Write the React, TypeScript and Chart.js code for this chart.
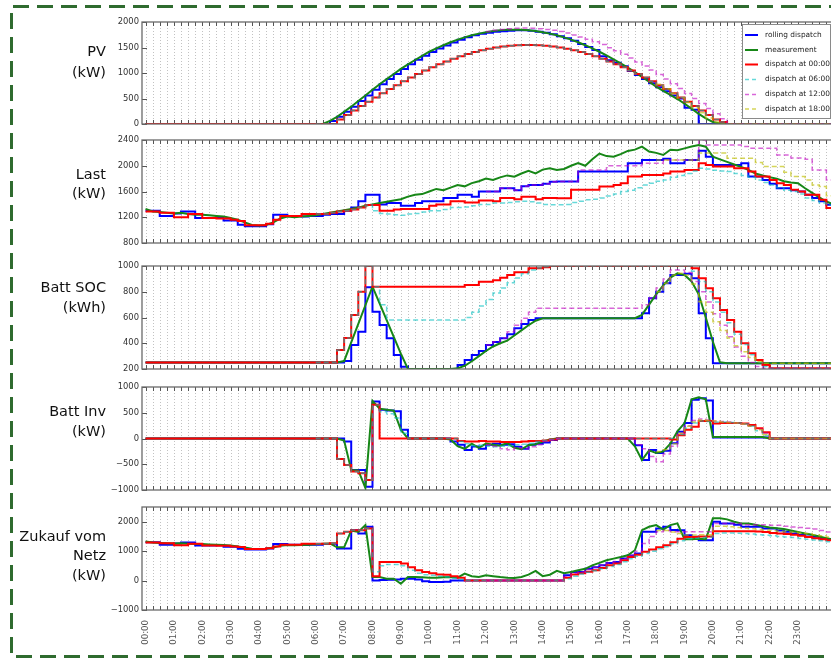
import React, { useEffect, useRef } from 'react';
import { Chart, registerables } from 'chart.js';
Chart.register(...registerables);

// quarter-hour category axis 00:00 .. 24:15
const times: string[] = Array.from({ length: 98 }, (_, i) =>
  `${String(Math.floor(i / 4)).padStart(2, '0')}:${String((i % 4) * 15).padStart(2, '0')}`);

const seriesNames = ['rolling dispatch', 'measurement', 'dispatch at 00:00', 'dispatch at 06:00', 'dispatch at 12:00', 'dispatch at 18:00'];
const seriesStart = [0, 0, 0, 24, 48, 72]; // quarter-hour index at which each series begins

// y tick values per panel
const pvTicks = [0, 500, 1000, 1500, 2000];
const lastTicks = [800, 1200, 1600, 2000, 2400];
const socTicks = [200, 400, 600, 800, 1000];
const invTicks = [-1000, -500, 0, 500, 1000];
const gridTicks = [-1000, 0, 1000, 2000];

// ---------------- PV (kW) ----------------
const pvRoll = [
  0,0,0,0,0,0,0,0,0,0,0,0, 0,0,0,0,0,0,0,0,0,0,0,0,
  0,0,60,140,240,340,450,560,670,780,880,980,
  1080,1170,1260,1340,1410,1480,1540,1600,1650,1700,1740,1770,
  1790,1810,1820,1830,1840,1840,1830,1810,1790,1760,1720,1680,
  1630,1570,1510,1450,1330,1250,1200,1130,1040,960,880,800,
  720,640,560,500,320,280,0,0,0,0,0,0,
  0,0,0,0,0,0,0,0,0,0,0,0, 0,0];
const pvMeas = [
  0,0,0,0,0,0,0,0,0,0,0,0, 0,0,0,0,0,0,0,0,0,0,0,0,
  0,0,60,140,240,340,450,560,670,780,880,980,
  1080,1170,1255,1335,1417,1484,1545,1602,1654,1698,1739,1772,
  1800,1822,1837,1846,1850,1846,1837,1822,1800,1772,1739,1698,
  1654,1602,1545,1484,1417,1347,1269,1190,1104,1016,925,831,
  733,650,570,490,400,300,200,110,40,10,0,0,
  0,0,0,0,0,0,0,0,0,0,0,0, 0,0];
const pvD00 = [
  0,0,0,0,0,0,0,0,0,0,0,0, 0,0,0,0,0,0,0,0,0,0,0,0,
  0,0,0,88,177,264,351,437,521,603,684,762,
  838,911,981,1048,1111,1172,1227,1280,1327,1371,1410,1444,
  1474,1499,1519,1534,1544,1549,1549,1544,1534,1519,1499,1474,
  1444,1410,1371,1327,1280,1227,1172,1111,1048,981,911,838,
  762,684,603,521,437,351,264,177,88,40,0,0,
  0,0,0,0,0,0,0,0,0,0,0,0, 0,0];
const pvD06 = [
  0,0,0,88,177,264,351,437,521,603,684,762,
  838,911,981,1048,1111,1172,1227,1280,1327,1371,1410,1444,
  1474,1499,1519,1534,1544,1549,1549,1544,1534,1519,1499,1474,
  1444,1410,1371,1327,1280,1227,1172,1111,1048,981,911,838,
  762,684,603,521,437,351,264,177,88,40,0,0,
  0,0,0,0,0,0,0,0,0,0,0,0, 0,0];
const pvD12 = [
  1812,1836,1855,1869,1877,1880,1877,1869,1855,1836,1812,1782,
  1747,1707,1662,1611,1557,1497,1434,1366,1292,1216,1137,1057,
  971,883,789,695,600,502,404,304,203,102,0,0,
  0,0,0,0,0,0,0,0,0,0,0,0, 0,0];
const pvD18 = [
  780,690,600,510,420,320,220,120,40,0,0,0,
  0,0,0,0,0,0,0,0,0,0,0,0, 0,0];

// ---------------- Last (kW) ----------------
const lastRoll = [
  1300,1300,1220,1220,1260,1290,1290,1190,1190,1190,1200,1150,
  1150,1085,1060,1060,1060,1090,1240,1240,1220,1220,1210,1220,
  1220,1240,1250,1250,1300,1350,1450,1550,1550,1400,1420,1420,
  1380,1380,1420,1450,1450,1450,1500,1500,1550,1550,1520,1600,
  1600,1600,1650,1650,1620,1680,1700,1700,1720,1750,1754,1754,
  1754,1909,1909,1909,1909,1909,1909,1909,2040,2040,2090,2090,
  2090,2110,2040,2040,2090,2090,2234,2141,2013,2013,2013,2013,
  2040,1832,1832,1780,1720,1652,1652,1620,1600,1550,1500,1450,
  1393,1380];
const lastMeas = [
  1330,1290,1280,1270,1260,1270,1250,1240,1240,1230,1220,1210,
  1190,1160,1120,1080,1070,1080,1120,1180,1210,1200,1210,1220,
  1230,1250,1270,1290,1310,1330,1350,1380,1400,1420,1440,1460,
  1480,1520,1550,1560,1600,1640,1620,1660,1700,1680,1730,1760,
  1800,1780,1820,1850,1830,1880,1920,1880,1940,1960,1935,1950,
  2000,2040,2000,2100,2190,2150,2140,2180,2230,2250,2296,2220,
  2200,2168,2250,2240,2270,2300,2323,2296,2141,2100,2060,2020,
  1980,1935,1880,1850,1820,1800,1760,1740,1729,1650,1580,1510,
  1444,1400];
const lastD00 = [
  1290,1290,1270,1270,1200,1200,1250,1250,1190,1190,1180,1180,
  1160,1140,1075,1075,1075,1100,1160,1220,1220,1220,1250,1250,
  1250,1250,1270,1290,1300,1320,1350,1390,1390,1300,1300,1320,
  1330,1330,1330,1330,1380,1400,1400,1450,1450,1430,1430,1460,
  1460,1450,1500,1500,1480,1520,1520,1480,1500,1500,1497,1497,
  1626,1626,1626,1626,1677,1677,1700,1729,1832,1832,1857,1857,
  1857,1880,1909,1909,1935,1935,2039,2013,1987,1987,1987,1961,
  1961,1909,1832,1832,1780,1729,1700,1626,1600,1548,1548,1470,
  1342,1330];
const lastD06 = [
  1250,1250,1270,1290,1300,1320,1350,1390,1300,1260,1250,1240,
  1230,1250,1260,1280,1300,1300,1320,1350,1350,1360,1380,1400,
  1400,1420,1420,1430,1440,1450,1440,1420,1400,1393,1393,1400,
  1430,1450,1470,1480,1500,1530,1560,1600,1620,1660,1700,1730,
  1760,1780,1820,1850,1880,1920,1961,1950,1930,1920,1909,1880,
  1850,1820,1780,1740,1700,1660,1620,1600,1560,1500,1460,1420,
  1390,1370];
const lastD12 = [
  1600,1600,1650,1650,1620,1680,1700,1700,1720,1750,1754,1754,
  1754,1935,1935,1935,1935,2000,2000,2000,2000,2000,2040,2040,
  2040,2090,2090,2090,2090,2090,2400,2323,2323,2323,2323,2323,
  2300,2271,2271,2271,2271,2168,2168,2120,2120,2100,1935,1935,
  1780,1700];
const lastD18 = [
  2090,2090,2090,2090,2090,2090,2197,2197,2197,2197,2116,2116,
  2116,2116,2050,1987,1987,1987,1900,1832,1832,1780,1700,1677,
  1535,1500];

// ---------------- Batt SOC (kWh) ----------------
const socRoll = [
  250,250,250,250,250,250,250,250,250,250,250,250,
  250,250,250,250,250,250,250,250,250,250,250,250,
  250,250,250,250,262,386,490,835,645,542,438,309,
  218,200,200,200,200,200,200,200,231,270,309,340,
  386,410,438,470,516,550,580,594,594,594,594,594,
  594,594,594,594,594,594,594,594,594,594,633,749,
  800,866,930,930,940,904,633,438,244,244,244,244,
  244,244,244,244,244,244,244,244,244,244,244,244,
  244,244];
const socMeas = [
  250,250,250,250,250,250,250,250,250,250,250,250,
  250,250,250,250,250,250,250,250,250,250,250,250,
  250,250,250,250,262,406,550,695,839,710,580,450,
  320,200,200,200,200,200,200,200,205,225,260,300,
  340,375,400,420,460,500,540,575,594,594,594,594,
  594,594,594,594,594,594,594,594,594,594,620,700,
  780,850,910,943,930,880,780,600,412,252,244,244,
  244,244,244,244,244,244,244,244,244,244,244,244,
  244,244];
const socD00 = [
  250,250,250,250,250,250,250,250,250,250,250,250,
  250,250,250,250,250,250,250,250,250,250,250,250,
  250,250,250,347,441,619,800,1000,839,839,839,839,
  839,839,839,839,839,839,839,839,839,852,852,878,
  878,890,909,930,951,951,982,982,990,1000,1000,1000,
  1000,1000,1000,1000,1000,1000,1000,1000,1000,1000,1000,1000,
  1000,1000,1000,1000,1000,982,904,827,749,658,580,490,
  400,322,270,231,205,205,205,205,205,205,205,205,
  205,205];
const socD06 = [
  250,250,250,347,441,619,800,1000,839,700,580,580,
  580,580,580,580,580,580,580,580,580,600,640,690,
  740,790,829,870,907,940,969,985,995,1000,1000,1000,
  1000,1000,1000,1000,1000,1000,1000,1000,1000,1000,1000,1000,
  1000,1000,1000,1000,1000,960,880,800,720,640,560,470,
  390,310,250,220,205,205,205,205,205,205,205,205,
  205,205];
const socD12 = [
  386,412,440,490,540,594,640,671,671,671,671,671,
  671,671,671,671,671,671,671,671,671,671,700,749,
  829,900,969,969,950,880,800,720,630,540,450,370,
  300,250,220,205,205,205,205,205,205,205,205,205,
  205,205];
const socD18 = [
  800,866,930,943,930,860,723,640,567,500,440,380,
  334,290,257,245,244,244,244,244,244,244,244,244,
  244,244];

// ---------------- Batt Inv (kW) ----------------
const invRoll = [
  0,0,0,0,0,0,0,0,0,0,0,0, 0,0,0,0,0,0,0,0,0,0,0,0,
  0,0,0,0,-60,-610,-610,-935,719,560,544,530,
  168,0,0,0,0,0,0,-60,-120,-221,-156,-200,
  -120,-100,-120,-110,-160,-200,-120,-100,-80,-30,0,0,
  0,0,0,0,0,0,0,0,0,-130,-417,-221,
  -280,-240,-91,130,299,752,781,740,20,20,20,20,
  20,20,20,20,0,0,0,0,0,0,0,0, 0,0];
const invMeas = [
  0,0,0,0,0,0,0,0,0,0,0,0, 0,0,0,0,0,0,0,0,0,0,0,0,
  0,0,0,0,-40,-610,-620,-960,730,580,560,540,
  168,0,0,0,0,0,0,-20,-150,-200,-100,-180,
  -100,-120,-140,-90,-180,-210,-130,-110,-60,-20,0,0,
  0,0,0,0,0,0,0,0,0,-150,-420,-230,
  -280,-250,-100,140,300,760,800,760,30,30,30,30,
  30,30,30,30,0,0,0,0,0,0,0,0, 0,0];
const invD00 = [
  0,0,0,0,0,0,0,0,0,0,0,0, 0,0,0,0,0,0,0,0,0,0,0,0,
  0,0,0,-397,-513,-643,-675,-805,655,0,0,0,
  0,0,0,0,0,0,0,0,-50,-60,-60,-50,
  -60,-60,-70,-70,-70,-60,-50,-50,-40,-20,0,0,
  0,0,0,0,0,0,0,0,0,0,0,0,
  0,0,-20,65,168,226,342,342,290,300,300,300,
  290,260,200,120,0,0,0,0,0,0,0,0, 0,0];
const invD06 = [
  0,0,0,-397,-513,-643,-675,-805,650,520,480,400,
  100,0,0,0,0,0,0,0,-60,-100,-140,-130,
  -150,-160,-150,-140,-120,-110,-90,-60,-40,-20,0,0,
  0,0,0,0,0,0,0,0,0,0,0,0,
  0,0,0,80,200,300,340,330,320,320,310,300,
  280,240,150,60,0,0,0,0,0,0,0,0, 0,0];
const invD12 = [
  -120,-150,-200,-220,-180,-200,-160,-120,-60,-30,0,0,
  0,0,0,0,0,0,0,0,0,-120,-200,-350,
  -450,-300,-150,100,250,350,380,360,340,330,320,300,
  280,240,180,100,0,0,0,0,0,0,0,0, 0,0];
const invD18 = [
  -250,-220,-100,100,240,320,360,350,340,320,310,300,
  280,240,170,80,0,0,0,0,0,0,0,0, 0,0];

// ---------------- Zukauf vom Netz (kW) ----------------
const gridRoll = [
  1300,1300,1220,1220,1260,1290,1290,1190,1190,1190,1200,1150,
  1150,1085,1060,1060,1060,1090,1240,1240,1220,1220,1210,1220,
  1220,1240,1250,1089,1089,1714,1602,1827,0,20,30,40,
  65,65,40,-20,-51,-51,-40,0,0,0,0,0,
  0,0,0,0,0,0,0,0,0,0,0,178,
  290,290,404,450,518,600,632,746,850,918,1656,1656,
  1772,1827,1720,1714,1544,1488,1373,1373,2000,1943,1943,1900,
  1827,1827,1827,1772,1772,1700,1656,1600,1550,1500,1488,1450,
  1400,1380];
const gridMeas = [
  1330,1290,1280,1270,1260,1270,1250,1240,1240,1230,1220,1210,
  1190,1160,1120,1080,1070,1080,1120,1180,1210,1200,1210,1220,
  1230,1250,1260,1130,1130,1700,1650,1885,120,120,65,65,
  -110,120,120,110,100,100,110,120,100,235,150,120,
  180,150,120,100,90,120,200,330,150,200,330,250,
  290,350,400,518,600,690,746,800,860,1031,1714,1827,
  1885,1734,1885,1943,1400,1400,1420,1400,2114,2114,2080,2000,
  1943,1943,1900,1850,1800,1780,1750,1700,1650,1600,1560,1500,
  1440,1400];
const gridD00 = [
  1290,1290,1270,1270,1200,1200,1250,1250,1190,1190,1180,1180,
  1160,1140,1075,1075,1075,1100,1160,1220,1220,1220,1250,1250,
  1250,1250,1270,1602,1656,1714,1714,1772,150,632,632,632,
  577,450,350,290,250,210,200,150,100,0,0,0,
  0,0,0,0,0,0,0,0,0,0,0,100,
  210,250,300,350,430,520,580,690,800,880,980,1060,
  1130,1200,1300,1420,1480,1480,1500,1500,1680,1680,1680,1680,
  1680,1680,1670,1650,1620,1600,1580,1560,1520,1480,1440,1400,
  1370,1340];
const gridD06 = [
  1250,1250,1270,1602,1656,1714,1714,1772,300,500,550,550,
  500,350,250,200,180,150,120,80,40,0,0,0,
  0,0,0,0,0,0,0,0,0,0,0,60,
  150,220,280,330,400,480,550,640,740,830,920,1000,
  1080,1150,1250,1350,1420,1440,1460,1480,1600,1620,1620,1610,
  1600,1580,1560,1540,1520,1500,1480,1460,1430,1400,1380,1350,
  1320,1300];
const gridD12 = [
  0,0,0,0,0,0,0,0,0,0,0,150,
  250,290,380,450,520,600,650,740,850,1000,1260,1500,
  1656,1700,1656,1656,1656,1656,1656,1656,1943,1943,1943,1943,
  1900,1900,1900,1900,1880,1880,1850,1820,1800,1780,1750,1700,
  1650,1600];
const gridD18 = [
  1700,1700,1650,1600,1550,1550,1560,1560,1850,1850,1830,1800,
  1780,1760,1740,1720,1700,1680,1660,1640,1620,1600,1560,1520,
  1480,1450];

// ---------------- styles ----------------
const seriesStyles = [
  { color: '#0000ff', width: 2, dash: [] as number[], stepped: true },
  { color: '#178717', width: 2, dash: [] as number[], stepped: false },
  { color: '#ff0000', width: 2, dash: [] as number[], stepped: true },
  { color: 'rgba(0,191,191,0.6)', width: 1.5, dash: [5, 3], stepped: true },
  { color: 'rgba(191,0,191,0.6)', width: 1.5, dash: [5, 3], stepped: true },
  { color: 'rgba(191,191,0,0.65)', width: 1.5, dash: [5, 3], stepped: true },
];

type PanelDef = {
  title: string[]; titleY: number[]; top: number; bottom: number;
  min: number; max: number; ticks: number[]; series: number[][]; legend?: boolean;
};

const panels: PanelDef[] = [
  { title: ['PV', '(kW)'], titleY: [52, 73], top: 22, bottom: 124, min: 0, max: 2000, ticks: pvTicks,
    series: [pvRoll, pvMeas, pvD00, pvD06, pvD12, pvD18], legend: true },
  { title: ['Last', '(kW)'], titleY: [175, 194.5], top: 140, bottom: 243, min: 800, max: 2400, ticks: lastTicks,
    series: [lastRoll, lastMeas, lastD00, lastD06, lastD12, lastD18] },
  { title: ['Batt SOC', '(kWh)'], titleY: [288.5, 308], top: 266, bottom: 369, min: 200, max: 1000, ticks: socTicks,
    series: [socRoll, socMeas, socD00, socD06, socD12, socD18] },
  { title: ['Batt Inv', '(kW)'], titleY: [412, 432], top: 387, bottom: 490, min: -1000, max: 1000, ticks: invTicks,
    series: [invRoll, invMeas, invD00, invD06, invD12, invD18] },
  { title: ['Zukauf vom', 'Netz', '(kW)'], titleY: [537, 556.5, 576], top: 507, bottom: 610, min: -1000, max: 2500, ticks: gridTicks,
    series: [gridRoll, gridMeas, gridD00, gridD06, gridD12, gridD18] },
];

const CANVAS_W = 837;
const Y_AXIS_W = 142;
const PAD_T = 8;
const PAD_B = 8;
const X_AXIS_H = 48;

function Panel({ p, isLast }: { p: PanelDef; isLast: boolean }) {
  const ref = useRef<HTMLCanvasElement>(null);
  const xh = isLast ? X_AXIS_H : 0;
  const h = p.bottom - p.top + PAD_T + PAD_B + xh;
  const canvasTop = p.top - PAD_T;

  useEffect(() => {
    if (!ref.current) return;
    const datasets = p.series.map((arr, k) => {
      const st = seriesStyles[k];
      const data = [...Array(seriesStart[k]).fill(null), ...arr];
      return {
        label: seriesNames[k], data,
        borderColor: st.color, backgroundColor: st.color,
        borderWidth: st.width, borderDash: st.dash, stepped: st.stepped,
        pointRadius: 0, fill: false, tension: 0, spanGaps: false,
      };
    }).reverse();

    const decor = {
      id: 'decor',
      beforeDatasetsDraw(chart: any) {
        const { ctx, chartArea: a, scales } = chart;
        const x = scales.x, y = scales.y;
        ctx.save();
        ctx.lineWidth = 1;
        ctx.strokeStyle = 'rgba(0,0,0,0.24)';
        ctx.setLineDash([1, 2]);
        for (let i = 0; i < times.length; i++) {
          const px = Math.round(x.getPixelForValue(i)) + 0.5;
          ctx.beginPath(); ctx.moveTo(px, a.top); ctx.lineTo(px, a.bottom); ctx.stroke();
        }
        ctx.setLineDash([]);
        ctx.strokeStyle = '#555';
        for (let i = 0; i < times.length; i++) {
          const px = Math.round(x.getPixelForValue(i)) + 0.5;
          ctx.beginPath();
          ctx.moveTo(px, a.top); ctx.lineTo(px, a.top + 4);
          ctx.moveTo(px, a.bottom); ctx.lineTo(px, a.bottom - 4);
          ctx.stroke();
        }
        for (const v of p.ticks) {
          const py = Math.round(y.getPixelForValue(v)) + 0.5;
          ctx.beginPath(); ctx.moveTo(a.left, py); ctx.lineTo(a.left + 5, py); ctx.stroke();
        }
        ctx.restore();
      },
      afterDatasetsDraw(chart: any) {
        const { ctx, chartArea: a } = chart;
        ctx.save();
        ctx.strokeStyle = '#6a6a6a';
        ctx.lineWidth = 1.3;
        ctx.strokeRect(a.left, a.top, a.right - a.left, a.bottom - a.top);
        ctx.restore();
      },
      afterDraw(chart: any) {
        const { ctx } = chart;
        ctx.save();
        ctx.fillStyle = '#111';
        ctx.font = '14.5px "DejaVu Sans"';
        ctx.textAlign = 'right';
        ctx.textBaseline = 'middle';
        p.title.forEach((line, k) => ctx.fillText(line, 106, p.titleY[k] - canvasTop));
        if (p.legend) {
          const bx = 742.5, by = 24.5 - canvasTop, bw = 88, bh = 94;
          ctx.fillStyle = '#fff';
          ctx.fillRect(bx, by, bw, bh);
          ctx.strokeStyle = '#8a8a8a';
          ctx.lineWidth = 1;
          ctx.strokeRect(bx, by, bw, bh);
          const ys = [35, 50, 64.5, 79.5, 94.5, 109];
          ctx.font = '7.4px "DejaVu Sans"';
          ctx.textAlign = 'left';
          seriesNames.forEach((name, k) => {
            const st = seriesStyles[k];
            const yy = ys[k] - canvasTop;
            ctx.strokeStyle = st.color;
            ctx.lineWidth = st.width;
            ctx.setLineDash(st.dash.length ? [4, 3] : []);
            ctx.beginPath(); ctx.moveTo(745, yy); ctx.lineTo(758, yy); ctx.stroke();
            ctx.setLineDash([]);
            ctx.fillStyle = '#222';
            ctx.fillText(name, 765, yy);
          });
        }
        ctx.restore();
      },
    };

    const chart = new Chart(ref.current, {
      type: 'line',
      data: { labels: times, datasets: datasets as any },
      options: {
        animation: false,
        responsive: false,
        maintainAspectRatio: false,
        devicePixelRatio: 1,
        events: [],
        layout: { padding: { top: PAD_T, bottom: PAD_B, left: 0, right: 0 }, autoPadding: false } as any,
        plugins: { legend: { display: false }, tooltip: { enabled: false } },
        elements: { point: { radius: 0 } },
        scales: {
          x: {
            type: 'category',
            offset: true,
            grid: { display: false, drawTicks: false },
            border: { display: false },
            ticks: {
              display: isLast,
              autoSkip: false,
              maxRotation: 90,
              minRotation: 90,
              padding: 10,
              color: '#555',
              font: { size: 8.6, family: 'DejaVu Sans' },
              callback: (_v: any, idx: number) => {
                const l = times[idx];
                return l.endsWith(':00') && idx < 96 ? l : '';
              },
            },
            afterFit: (s: any) => { s.height = xh; s.paddingLeft = 0; s.paddingRight = 0; },
          },
          y: {
            min: p.min, max: p.max,
            grid: { display: false, drawTicks: false },
            border: { display: false },
            ticks: {
              autoSkip: false,
              padding: 3,
              color: '#333',
              font: { size: 8.4, family: 'DejaVu Sans' },
              callback: (v: any) => String(v).replace('-', '\u2212'),
            },
            afterBuildTicks: (s: any) => { s.ticks = p.ticks.map((v) => ({ value: v })); },
            afterFit: (s: any) => { s.width = Y_AXIS_W; s.paddingTop = 0; s.paddingBottom = 0; },
          },
        },
      },
      plugins: [decor],
    } as any);
    return () => chart.destroy();
  }, []);

  return (
    <canvas
      ref={ref}
      width={CANVAS_W}
      height={h}
      style={{ position: 'absolute', left: 0, top: canvasTop, width: CANVAS_W, height: h }}
    />
  );
}

export default function App() {
  return (
    <div style={{ position: 'fixed', left: 0, top: 0, width: 831, height: 658, overflow: 'hidden', background: '#fff' }}>
      <svg width={831} height={658} style={{ position: 'absolute', left: 0, top: 0 }}>
        <path d="M 845 6.5 H 11.5 V 656.5 H 845" fill="none" stroke="#2f6b2f" strokeWidth={3} strokeDasharray="16 8" />
      </svg>
      {panels.map((p, k) => (
        <Panel key={k} p={p} isLast={k === panels.length - 1} />
      ))}
    </div>
  );
}
